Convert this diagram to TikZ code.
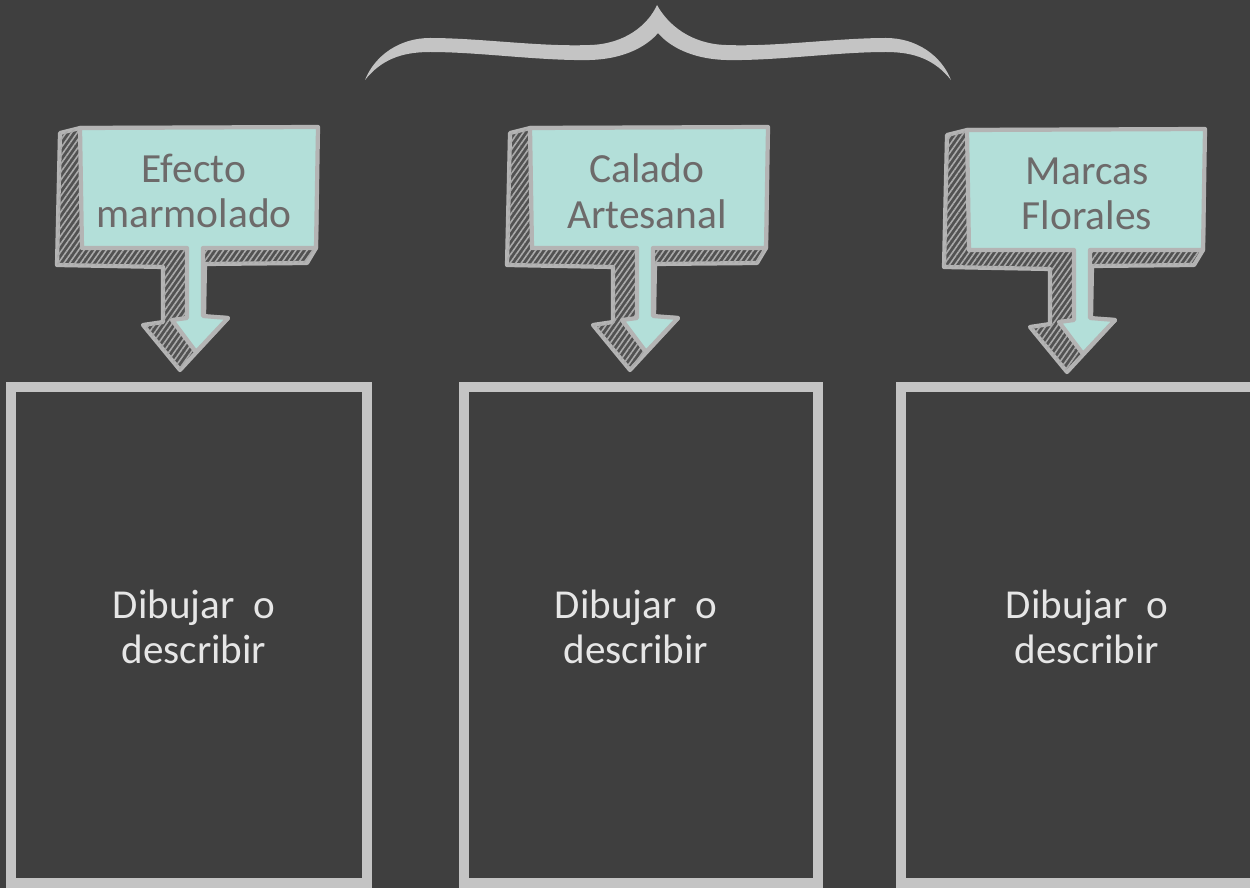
\documentclass[tikz,border=0pt]{standalone}
\usepackage{fontspec}
\setmainfont{Carlito}
\usetikzlibrary{patterns.meta}
\definecolor{bg}{HTML}{3F3F3F}
\definecolor{linegray}{HTML}{C4C4C4}
\definecolor{edgegray}{HTML}{B4B4B4}
\definecolor{teal}{HTML}{B3DFD9}
\definecolor{ctextc}{HTML}{6D6A6A}
\definecolor{btextc}{HTML}{E6E6E6}
\definecolor{backfill}{HTML}{525252}
\definecolor{hatchc}{HTML}{ABABAB}
\tikzset{
  boxline/.style={draw=linegray, line width=5.2pt},
  edgeline/.style={draw=edgegray, line width=2.4pt, line join=round},
  ctext/.style={align=center, inner sep=0pt, text=ctextc, font=\fontsize{23.6}{26}\selectfont},
  btext/.style={align=center, inner sep=0pt, text=btextc, font=\fontsize{23.4}{25.5}\selectfont},
  callout/.pic={
    \path[fill=backfill, postaction={pattern={Lines[angle=55,distance=2.6pt,line width=0.9pt]}, pattern color=hatchc}, edgeline]
      (80,128) -- (60,133) -- (57,265) -- (163,267) -- (163,322) -- (143,325) -- (180,370)
      -- (228,318) -- (204,317) -- (205,264) -- (307,263) -- (316,248) -- (317,128) -- cycle;
    \path[fill=teal, edgeline]
      (80,128) -- (318,127) -- (316,248) -- (203,248) -- (203,316) -- (228,318) -- (196,352)
      -- (172,320) -- (187,318) -- (187,248) -- (82,248) -- cycle;
  }
}
\begin{document}
\begin{tikzpicture}[x=0.02cm,y=-0.02cm]
\fill[bg] (0,0) rectangle (1250,888);
\useasboundingbox (0,0) rectangle (1250,888);
\clip (0,0) rectangle (1250,888);

% brace
\fill[linegray]
  (365,80) .. controls (375,55) and (400,38) .. (430,38)
  .. controls (480,38) and (540,47) .. (590,45)
  .. controls (625,44) and (648,25) .. (657,5)
  .. controls (668,25) and (691,44) .. (726,45)
  .. controls (776,47) and (836,38) .. (886,38)
  .. controls (916,38) and (941,55) .. (951,80)
  .. controls (935,60) and (915,52) .. (886,52)
  .. controls (836,52) and (776,61) .. (726,60)
  .. controls (690,59) and (668,45) .. (658,33)
  .. controls (648,45) and (626,59) .. (590,60)
  .. controls (540,61) and (480,52) .. (430,52)
  .. controls (401,52) and (381,60) .. (365,80) -- cycle;

% callouts
\pic at (0,0) {callout};
\pic at (450,0) {callout};
\pic at (887,2) {callout};

\node[ctext] (c1) at (194,191) {Efecto\\marmolado};
\node[ctext] (c2) at (647,191) {Calado\\Artesanal};
\node[ctext] (c3) at (1087,194) {Marcas\\Florales};

% boxes
\draw[boxline] (11,387) rectangle (367,883);
\draw[boxline] (464,387) rectangle (818,883);
\draw[boxline] (901,387) rectangle (1270,883);

\node[btext] (b1) at (194,627) {Dibujar~ o\\describir};
\node[btext] (b2) at (636,627) {Dibujar~ o\\describir};
\node[btext] (b3) at (1087,627) {Dibujar~ o\\describir};
\end{tikzpicture}
\end{document}
